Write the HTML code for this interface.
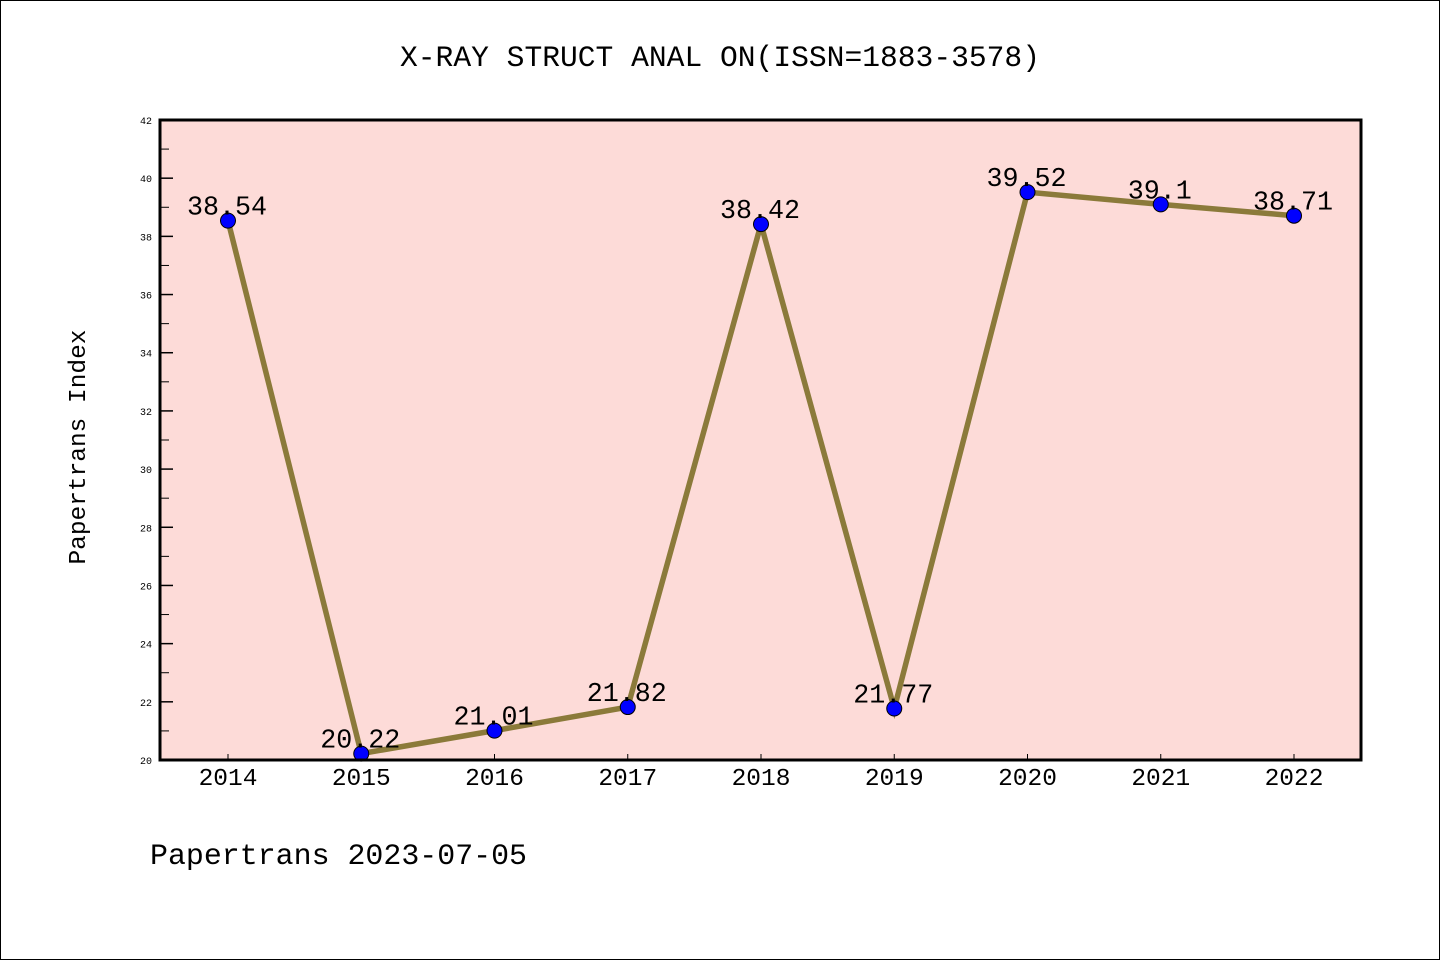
<!DOCTYPE html>
<html><head><meta charset="utf-8"><style>
body{margin:0;background:#fff}
svg{display:block;font-family:"Liberation Mono",monospace}
</style></head><body>
<svg width="1440" height="960">
<rect x="0.5" y="0.5" width="1439" height="959" fill="#fff" stroke="#000"/>
<text x="720" y="66" text-anchor="middle" font-size="29.5" textLength="640" lengthAdjust="spacingAndGlyphs">X-RAY STRUCT ANAL ON(ISSN=1883-3578)</text>
<rect x="160" y="120" width="1201" height="640" fill="#fddbd8"/>
<g id="axes"></g>
<g id="marks"></g>
<rect x="160" y="120" width="1201" height="640" fill="none" stroke="#000" stroke-width="3"/>
<text transform="translate(85,447) rotate(-90)" text-anchor="middle" font-size="24.5" textLength="235" lengthAdjust="spacingAndGlyphs">Papertrans Index</text>
<text x="150" y="864" font-size="30" textLength="377" lengthAdjust="spacingAndGlyphs">Papertrans 2023-07-05</text>
</svg>
<script>
const years=["2014","2015","2016","2017","2018","2019","2020","2021","2022"];
const values=[38.54,20.22,21.01,21.82,38.42,21.77,39.52,39.1,38.71];
const labels=["38.54","20.22","21.01","21.82","38.42","21.77","39.52","39.1","38.71"];
const yTicks=[20,22,24,26,28,30,32,34,36,38,40,42];
const NS="http://www.w3.org/2000/svg";
const xS=i=>228+i*133.25;
const yS=v=>760-(v-20)*(640/22);
function mk(t,a,p){const e=document.createElementNS(NS,t);for(const k in a)e.setAttribute(k,a[k]);p.appendChild(e);return e;}
const ax=document.getElementById('axes'),mg=document.getElementById('marks');
yTicks.forEach(v=>{
 const l=mk('line',{x1:160,x2:173,y1:yS(v),y2:yS(v),stroke:'#000','stroke-width':1.5},ax);
 
 
 const t=mk('text',{x:152,y:yS(v)+4,'text-anchor':'end','font-size':10},ax);t.textContent=v;
 
 
 if(v<42){const m=mk('line',{x1:160,x2:169,y1:yS(v+1),y2:yS(v+1),stroke:'#000','stroke-width':1},ax);
 
 }
});
years.forEach((y,i)=>{
 const l=mk('line',{x1:xS(i),x2:xS(i),y1:760,y2:754,stroke:'#000','stroke-width':1},ax);
 
 
 const t=mk('text',{x:xS(i),y:785,'text-anchor':'middle','font-size':24.5},ax);t.textContent=y;
 
 
});
const pl=mk('polyline',{points:values.map((v,i)=>xS(i)+','+yS(v)).join(' '),fill:'none',stroke:'#8b7a3a','stroke-width':5.5},mg);


values.forEach((v,i)=>{
 const c=mk('circle',{cx:xS(i),cy:yS(v),r:7.5,fill:'#0000ff',stroke:'#000','stroke-width':1},mg);
 
 
 const t=mk('text',{x:xS(i)-1,y:yS(v)-6,'text-anchor':'middle','font-size':26.7},mg);t.textContent=labels[i];
 
 
});
</script>
</body></html>
